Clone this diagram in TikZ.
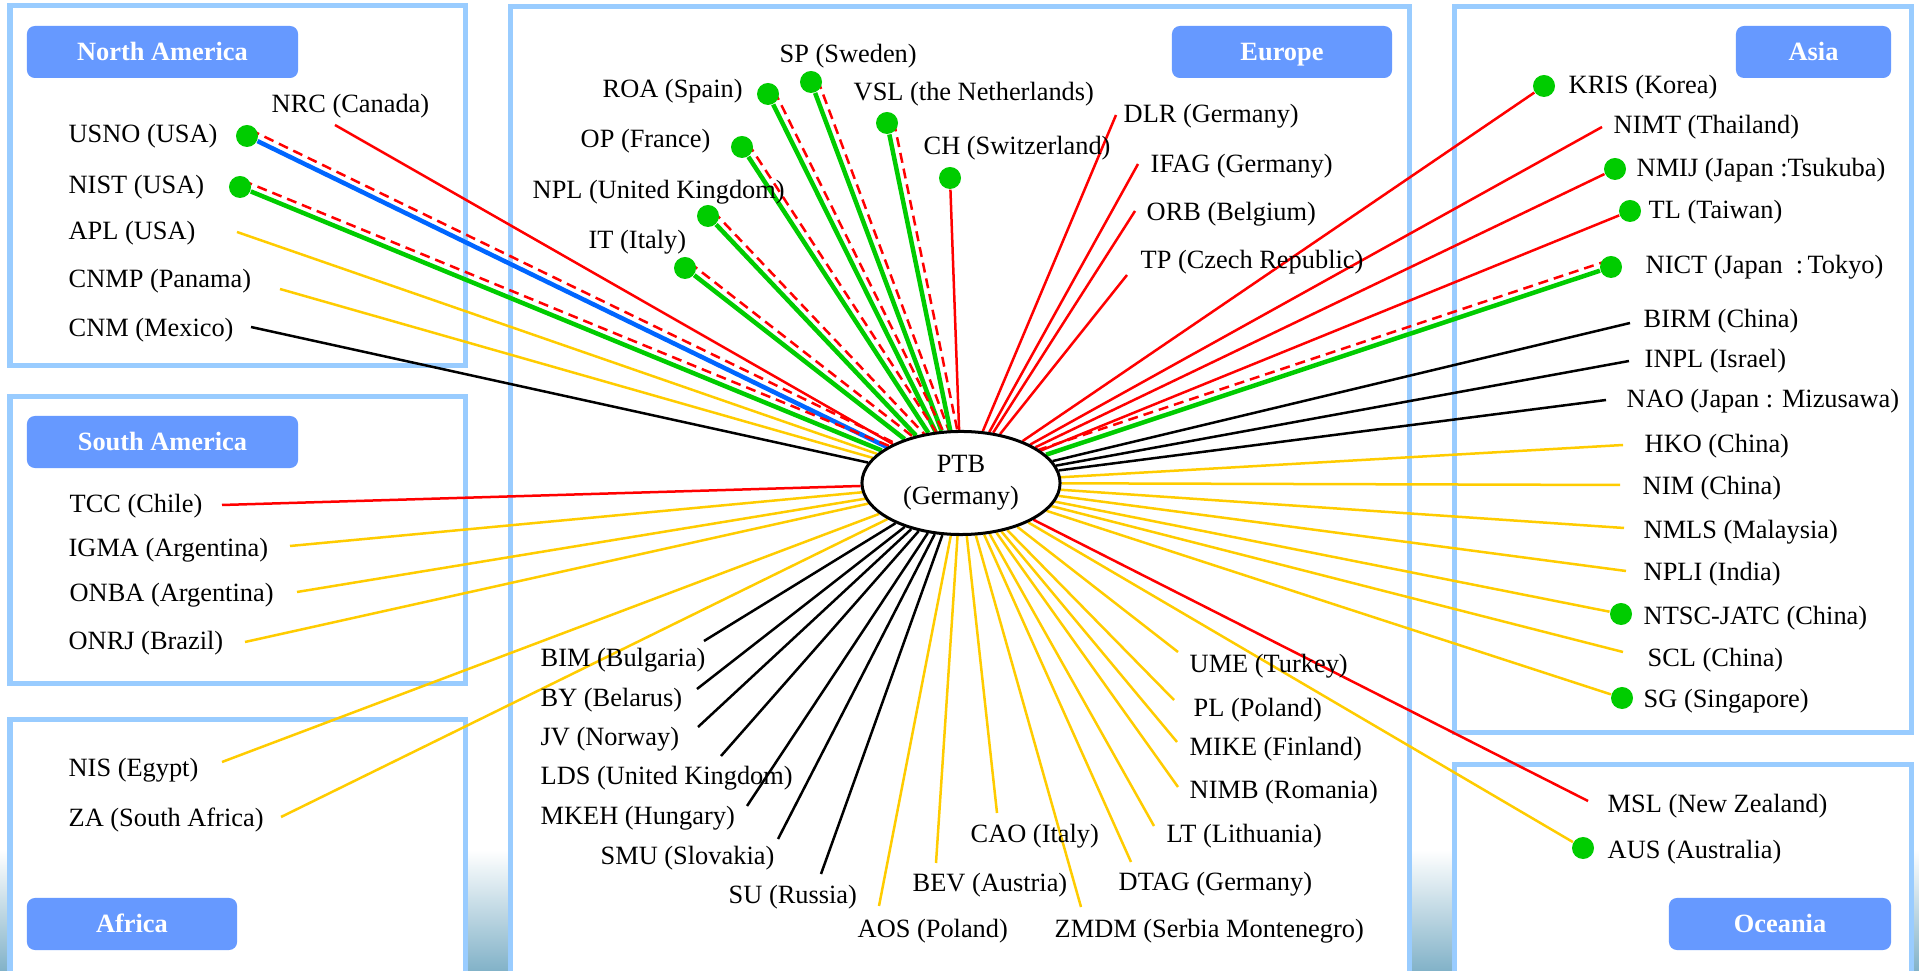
\documentclass[tikz,border=0pt]{standalone}
\usepackage{fontspec}
\setmainfont{Liberation Serif}
\usetikzlibrary{positioning}
\usetikzlibrary{calc}
\usetikzlibrary{shapes.geometric}

\pgfdeclarelayer{back}
\pgfdeclarelayer{wires}
\pgfsetlayers{back,wires,main}

\definecolor{framecol}{RGB}{153,204,255}
\definecolor{badgecol}{RGB}{102,153,255}
\definecolor{dotgreen}{RGB}{0,204,0}
\definecolor{linered}{RGB}{255,0,0}
\definecolor{lineyellow}{RGB}{255,204,0}
\definecolor{lineblue}{RGB}{0,102,255}
\definecolor{steel}{RGB}{130,178,200}

\begin{document}
\begin{tikzpicture}[
        x=0.01cm, y=-0.01cm,
        every node/.style={font=\fontsize{7.5}{9}\selectfont},
        frame/.style={draw=framecol, line width=0.05cm},
        badge/.style={fill=badgecol, rounded corners=0.08cm, text=white,
            font=\fontsize{7.5}{9}\selectfont\bfseries, minimum height=0.52cm, inner sep=0pt,
            text height=5pt, text depth=0pt},
        lbl/.style={anchor=base west, inner sep=0pt},
        dot/.style={circle, fill=dotgreen, inner sep=0pt, minimum size=0.22cm},
        redln/.style={draw=linered, line width=0.025cm},
        yelln/.style={draw=lineyellow, line width=0.025cm},
        blkln/.style={draw=black, line width=0.025cm},
        grnln/.style={draw=dotgreen, line width=0.045cm},
        bluln/.style={draw=lineblue, line width=0.045cm},
        dashln/.style={draw=linered, line width=0.025cm, dash pattern=on 0.1cm off 0.06cm},
    ]
        \useasboundingbox (0,0) rectangle (1919,971);

        % Frames and titles
        \begin{pgfonlayer}{back}
        \shade[top color=white, bottom color=steel] (0,850) rectangle (1919,971);
        \fill[white] (10,6) rectangle (465,366);
        \fill[white] (10,397) rectangle (465,684);
        \fill[white] (10,720) rectangle (465,971);
        \fill[white] (510,7) rectangle (1409,971);
        \fill[white] (1454,7) rectangle (1911,733);
        \fill[white] (1454,765) rectangle (1911,971);
        \draw[frame] (10,6) rectangle (465,366);
        \draw[frame] (10,397) rectangle (465,684);
        \draw[frame] (10,971) |- (465,720) -- (465,971);
        \draw[frame] (510,971) |- (1409,7) -- (1409,971);
        \draw[frame] (1454,7) rectangle (1911,733);
        \draw[frame] (1454,971) |- (1911,765) -- (1911,971);

        \node[badge, minimum width=2.71cm] (namerica) at (162.5,52) {North America};
        \node[badge, minimum width=2.71cm] (samerica) at (162.5,442) {South America};
        \node[badge, minimum width=2.10cm] (africa) at (132,924) {Africa};
        \node[badge, minimum width=2.20cm] (europe) at (1282,52) {Europe};
        \node[badge, minimum width=1.55cm] (asia) at (1813.5,52) {Asia};
        \node[badge, minimum width=2.22cm] (oceania) at (1780,924) {Oceania};
        \end{pgfonlayer}

        % Centre
        \node[ellipse, draw, fill=white, line width=0.03cm, minimum width=1.98cm,
            minimum height=1.03cm, inner sep=0pt, align=center] (ptb) at (961,483) {PTB\\(Germany)};

        % North America
        \node[lbl] (nrc) at (271,113) {NRC (Canada)};
        \node[lbl] (usno) at (68,143) {USNO (USA)};
        \node[lbl] (nist) at (68,194) {NIST (USA)};
        \node[lbl] (apl) at (68,240) {APL (USA)};
        \node[lbl] (cnmp) at (68,288) {CNMP (Panama)};
        \node[lbl] (cnm) at (68,337) {CNM (Mexico)};
        \coordinate (nrc-e) at (335,125);
        \node[dot] (usno-d) at (247,136) {};
        \node[dot] (nist-d) at (240,187) {};
        \coordinate (apl-e) at (237,232);
        \coordinate (cnmp-e) at (280,289);
        \coordinate (cnm-e) at (251,327);

        % South America
        \node[lbl] (tcc) at (69,513) {TCC (Chile)};
        \node[lbl] (igma) at (68,557) {IGMA (Argentina)};
        \node[lbl] (onba) at (69,602) {ONBA (Argentina)};
        \node[lbl] (onrj) at (68,650) {ONRJ (Brazil)};
        \coordinate (tcc-e) at (222,505);
        \coordinate (igma-e) at (290,546);
        \coordinate (onba-e) at (297,592);
        \coordinate (onrj-e) at (245,642);

        % Africa
        \node[lbl] (nis) at (68,777) {NIS (Egypt)};
        \node[lbl] (za) at (68,827) {ZA (South Africa)};
        \coordinate (nis-e) at (222,762);
        \coordinate (za-e) at (281,817);

        % Europe, top
        \node[lbl] (sp) at (779,63) {SP (Sweden)};
        \node[lbl] (roa) at (602,98) {ROA (Spain)};
        \node[lbl] (vsl) at (853,101) {VSL (the Netherlands)};
        \node[lbl] (op) at (580,148) {OP (France)};
        \node[lbl] (ch) at (923,155) {CH (Switzerland)};
        \node[lbl] (npl) at (532,199) {NPL (United Kingdom)};
        \node[lbl] (it) at (588,249) {IT (Italy)};
        \node[lbl] (dlr) at (1123,123) {DLR (Germany)};
        \node[lbl] (ifag) at (1150,173) {IFAG (Germany)};
        \node[lbl] (orb) at (1146,221) {ORB (Belgium)};
        \node[lbl] (tp) at (1140,269) {TP (Czech Republic)};
        \node[dot] (sp-d) at (811,82) {};
        \node[dot] (roa-d) at (768,94) {};
        \node[dot] (vsl-d) at (887,123) {};
        \node[dot] (op-d) at (742,147) {};
        \node[dot] (ch-d) at (950,178) {};
        \node[dot] (npl-d) at (708,216) {};
        \node[dot] (it-d) at (685,268) {};
        \coordinate (dlr-e) at (1116,115);
        \coordinate (ifag-e) at (1138,164);
        \coordinate (orb-e) at (1135,211);
        \coordinate (tp-e) at (1127,275);

        % Europe, bottom
        \node[lbl] (bim) at (540,667) {BIM (Bulgaria)};
        \node[lbl] (by) at (540,707) {BY (Belarus)};
        \node[lbl] (jv) at (540,746) {JV (Norway)};
        \node[lbl] (lds) at (540,785) {LDS (United Kingdom)};
        \node[lbl] (mkeh) at (540,825) {MKEH (Hungary)};
        \node[lbl] (smu) at (600,865) {SMU (Slovakia)};
        \node[lbl] (su) at (728,903) {SU (Russia)};
        \node[lbl] (aos) at (857,937) {AOS (Poland)};
        \node[lbl] (bev) at (912,892) {BEV (Austria)};
        \node[lbl] (cao) at (970,843) {CAO (Italy)};
        \node[lbl] (ume) at (1189,673) {UME (Turkey)};
        \node[lbl] (pl) at (1193,717) {PL (Poland)};
        \node[lbl] (mike) at (1189,756) {MIKE (Finland)};
        \node[lbl] (nimb) at (1189,799) {NIMB (Romania)};
        \node[lbl] (lt) at (1166,843) {LT (Lithuania)};
        \node[lbl] (dtag) at (1118,890) {DTAG (Germany)};
        \node[lbl] (zmdm) at (1054,937) {ZMDM (Serbia Montenegro)};
        \coordinate (bim-e) at (704,641);
        \coordinate (by-e) at (697,689);
        \coordinate (jv-e) at (698,727);
        \coordinate (lds-e) at (721,756);
        \coordinate (mkeh-e) at (747,806);
        \coordinate (smu-e) at (778,839);
        \coordinate (su-e) at (821,874);
        \coordinate (aos-e) at (879,906);
        \coordinate (bev-e) at (936,863);
        \coordinate (cao-e) at (997,813);
        \coordinate (ume-e) at (1178,652);
        \coordinate (pl-e) at (1174,700);
        \coordinate (mike-e) at (1177,742);
        \coordinate (nimb-e) at (1178,787);
        \coordinate (lt-e) at (1154,826);
        \coordinate (dtag-e) at (1131,862);
        \coordinate (zmdm-e) at (1081,907);

        % Asia
        \node[lbl] (kris) at (1568,94) {KRIS (Korea)};
        \node[lbl] (nimt) at (1613,134) {NIMT (Thailand)};
        \node[lbl] (nmij) at (1636,177) {NMIJ (Japan :Tsukuba)};
        \node[lbl] (tl) at (1648,219) {TL (Taiwan)};
        \node[lbl] (nict) at (1645,274) {NICT (Japan~~:\,Tokyo)};
        \node[lbl] (birm) at (1643,328) {BIRM (China)};
        \node[lbl] (inpl) at (1644,368) {INPL (Israel)};
        \node[lbl] (nao) at (1626,408) {NAO (Japan : Mizusawa)};
        \node[lbl] (hko) at (1644,453) {HKO (China)};
        \node[lbl] (nim) at (1642,495) {NIM (China)};
        \node[lbl] (nmls) at (1643,539) {NMLS (Malaysia)};
        \node[lbl] (npli) at (1643,581) {NPLI (India)};
        \node[lbl] (ntsc) at (1643,625) {NTSC-JATC (China)};
        \node[lbl] (scl) at (1647,667) {SCL (China)};
        \node[lbl] (sg) at (1643,708) {SG (Singapore)};
        \node[dot] (kris-d) at (1544,86) {};
        \coordinate (nimt-e) at (1602,127);
        \node[dot] (nmij-d) at (1615,169) {};
        \node[dot] (tl-d) at (1630,211) {};
        \node[dot] (nict-d) at (1611,267) {};
        \coordinate (birm-e) at (1630,323);
        \coordinate (inpl-e) at (1629,361);
        \coordinate (nao-e) at (1606,400);
        \coordinate (hko-e) at (1623,445);
        \coordinate (nim-e) at (1620,485);
        \coordinate (nmls-e) at (1624,528);
        \coordinate (npli-e) at (1626,571);
        \node[dot] (ntsc-d) at (1621,614) {};
        \coordinate (scl-e) at (1623,652);
        \node[dot] (sg-d) at (1622,698) {};

        % Oceania
        \node[lbl] (msl) at (1607,813) {MSL (New Zealand)};
        \node[lbl] (aus) at (1607,859) {AUS (Australia)};
        \coordinate (msl-e) at (1588,801);
        \node[dot] (aus-d) at (1583,848) {};

        % Links
        \begin{pgfonlayer}{wires}
        \draw[redln] (nrc-e) -- (ptb);
        \draw[bluln] (usno-d) -- (ptb);
        \draw[dashln] ($(usno-d)!0.07cm!90:(ptb.center)$) -- ($(ptb.center)!0.07cm!-90:(usno-d)$);
        \draw[grnln] (nist-d) -- (ptb);
        \draw[dashln] ($(nist-d)!0.07cm!90:(ptb.center)$) -- ($(ptb.center)!0.07cm!-90:(nist-d)$);
        \draw[yelln] (apl-e) -- (ptb);
        \draw[yelln] (cnmp-e) -- (ptb);
        \draw[blkln] (cnm-e) -- (ptb);

        \draw[redln] (tcc-e) -- (ptb);
        \draw[yelln] (igma-e) -- (ptb);
        \draw[yelln] (onba-e) -- (ptb);
        \draw[yelln] (onrj-e) -- (ptb);
        \draw[yelln] (nis-e) -- (ptb);
        \draw[yelln] (za-e) -- (ptb);

        \draw[grnln] (sp-d) -- (ptb);
        \draw[dashln] ($(sp-d)!0.07cm!90:(ptb.center)$) -- ($(ptb.center)!0.07cm!-90:(sp-d)$);
        \draw[grnln] (roa-d) -- (ptb);
        \draw[dashln] ($(roa-d)!0.07cm!90:(ptb.center)$) -- ($(ptb.center)!0.07cm!-90:(roa-d)$);
        \draw[grnln] (vsl-d) -- (ptb);
        \draw[dashln] ($(vsl-d)!0.07cm!90:(ptb.center)$) -- ($(ptb.center)!0.07cm!-90:(vsl-d)$);
        \draw[grnln] (op-d) -- (ptb);
        \draw[dashln] ($(op-d)!0.07cm!90:(ptb.center)$) -- ($(ptb.center)!0.07cm!-90:(op-d)$);
        \draw[redln] (ch-d) -- (ptb);
        \draw[grnln] (npl-d) -- (ptb);
        \draw[dashln] ($(npl-d)!0.07cm!90:(ptb.center)$) -- ($(ptb.center)!0.07cm!-90:(npl-d)$);
        \draw[grnln] (it-d) -- (ptb);
        \draw[dashln] ($(it-d)!0.07cm!90:(ptb.center)$) -- ($(ptb.center)!0.07cm!-90:(it-d)$);
        \draw[redln] (dlr-e) -- (ptb);
        \draw[redln] (ifag-e) -- (ptb);
        \draw[redln] (orb-e) -- (ptb);
        \draw[redln] (tp-e) -- (ptb);

        \draw[blkln] (bim-e) -- (ptb);
        \draw[blkln] (by-e) -- (ptb);
        \draw[blkln] (jv-e) -- (ptb);
        \draw[blkln] (lds-e) -- (ptb);
        \draw[blkln] (mkeh-e) -- (ptb);
        \draw[blkln] (smu-e) -- (ptb);
        \draw[blkln] (su-e) -- (ptb);
        \draw[yelln] (aos-e) -- (ptb);
        \draw[yelln] (bev-e) -- (ptb);
        \draw[yelln] (cao-e) -- (ptb);
        \draw[yelln] (ume-e) -- (ptb);
        \draw[yelln] (pl-e) -- (ptb);
        \draw[yelln] (mike-e) -- (ptb);
        \draw[yelln] (nimb-e) -- (ptb);
        \draw[yelln] (lt-e) -- (ptb);
        \draw[yelln] (dtag-e) -- (ptb);
        \draw[yelln] (zmdm-e) -- (ptb);

        \draw[redln] (kris-d) -- (ptb);
        \draw[redln] (nimt-e) -- (ptb);
        \draw[redln] (nmij-d) -- (ptb);
        \draw[redln] (tl-d) -- (ptb);
        \draw[grnln] (nict-d) -- (ptb);
        \draw[dashln] ($(nict-d)!0.07cm!-90:(ptb.center)$) -- ($(ptb.center)!0.07cm!90:(nict-d)$);
        \draw[blkln] (birm-e) -- (ptb);
        \draw[blkln] (inpl-e) -- (ptb);
        \draw[blkln] (nao-e) -- (ptb);
        \draw[yelln] (hko-e) -- (ptb);
        \draw[yelln] (nim-e) -- (ptb);
        \draw[yelln] (nmls-e) -- (ptb);
        \draw[yelln] (npli-e) -- (ptb);
        \draw[yelln] (ntsc-d) -- (ptb);
        \draw[yelln] (scl-e) -- (ptb);
        \draw[yelln] (sg-d) -- (ptb);

        \draw[redln] (msl-e) -- (ptb);
        \draw[yelln] (aus-d) -- (ptb);
        \end{pgfonlayer}
    \end{tikzpicture}
\end{document}
